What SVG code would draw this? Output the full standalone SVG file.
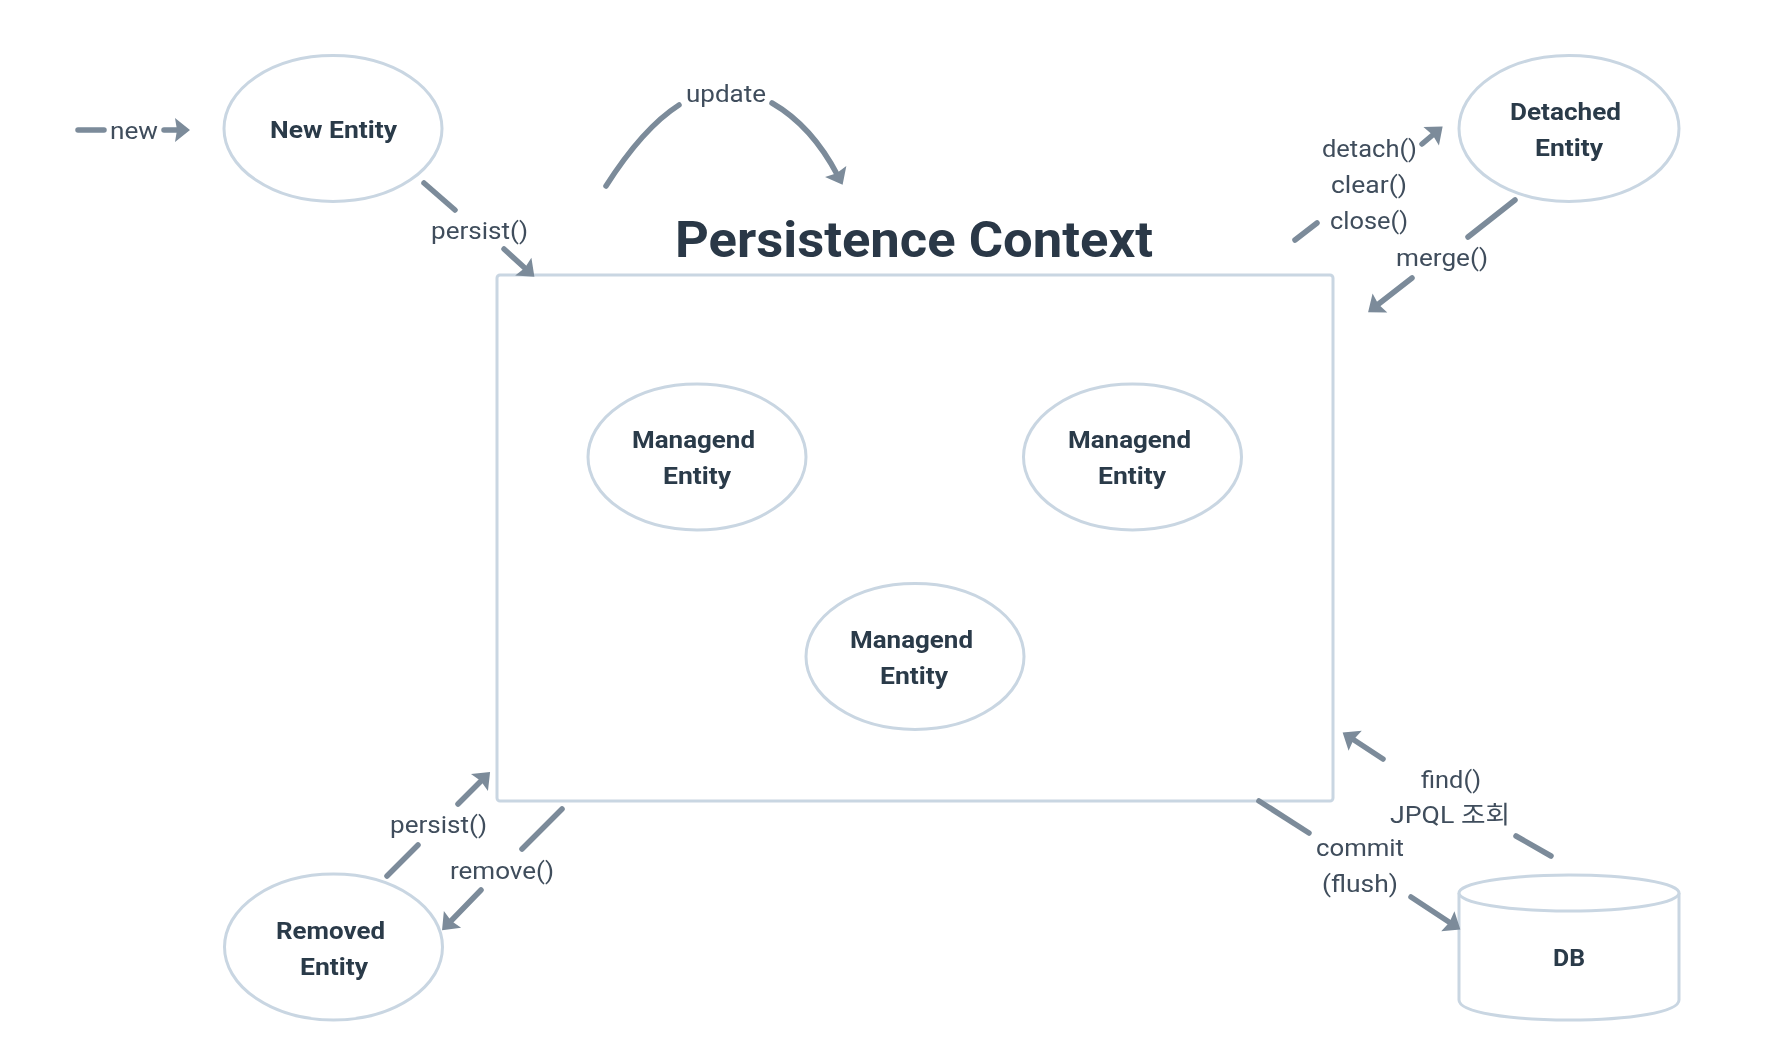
<svg xmlns="http://www.w3.org/2000/svg" width="1792" height="1056" viewBox="0 0 1792 1056">
<style>
.shape{fill:#fff;stroke:#c9d6e2;stroke-width:3}
.node{font-family:"Roboto","Noto Sans CJK KR",sans-serif;font-weight:700;font-size:24px;fill:#2c3a4a}
.label{font-family:"Roboto","Noto Sans CJK KR",sans-serif;font-weight:400;font-size:24px;fill:#3f4d5c}
.title{font-family:"Roboto",sans-serif;font-weight:700;font-size:50px;fill:#2a3846}
.conn{fill:none;stroke:#7b8b9a;stroke-width:5.5;stroke-linecap:round}
</style>
<defs>
<marker id="head" markerUnits="userSpaceOnUse" markerWidth="26" markerHeight="26" viewBox="0 0 26 26" refX="15" refY="13" orient="auto">
<path d="M10,1 L25,13 L10,25 L12,13 Z" fill="#7b8b9a"/>
</marker>
<filter id="soft" filterUnits="userSpaceOnUse" x="0" y="0" width="1792" height="1056"><feGaussianBlur stdDeviation="0.7"/></filter>
</defs>
<rect width="1792" height="1056" fill="#fff"/>
<g filter="url(#soft)">
<g id="persistence-context">
<rect class="shape" x="497" y="275" width="836" height="526" rx="3"/>
<text class="title" x="675" y="257" textLength="478" lengthAdjust="spacingAndGlyphs">Persistence Context</text>
</g>
<g id="new-entity">
<ellipse class="shape" cx="333" cy="128.5" rx="109" ry="73"/>
<text class="node" x="270" y="138" textLength="127" lengthAdjust="spacingAndGlyphs">New Entity</text>
</g>
<g id="detached-entity">
<ellipse class="shape" cx="1569" cy="128.5" rx="110" ry="73"/>
<text class="node" x="1510" y="120" textLength="111" lengthAdjust="spacingAndGlyphs">Detached</text>
<text class="node" x="1535" y="156" textLength="68" lengthAdjust="spacingAndGlyphs">Entity</text>
</g>
<g id="managed-entity-1">
<ellipse class="shape" cx="697" cy="457" rx="109" ry="73"/>
<text class="node" x="632" y="448" textLength="123" lengthAdjust="spacingAndGlyphs">Managend</text>
<text class="node" x="663" y="484" textLength="68" lengthAdjust="spacingAndGlyphs">Entity</text>
</g>
<g id="managed-entity-2">
<ellipse class="shape" cx="1132.5" cy="457" rx="109" ry="73"/>
<text class="node" x="1068" y="448" textLength="123" lengthAdjust="spacingAndGlyphs">Managend</text>
<text class="node" x="1098" y="484" textLength="68" lengthAdjust="spacingAndGlyphs">Entity</text>
</g>
<g id="managed-entity-3">
<ellipse class="shape" cx="915" cy="656.5" rx="109" ry="73"/>
<text class="node" x="850" y="648" textLength="123" lengthAdjust="spacingAndGlyphs">Managend</text>
<text class="node" x="880" y="684" textLength="68" lengthAdjust="spacingAndGlyphs">Entity</text>
</g>
<g id="removed-entity">
<ellipse class="shape" cx="333.5" cy="947" rx="109" ry="73"/>
<text class="node" x="276" y="939" textLength="109" lengthAdjust="spacingAndGlyphs">Removed</text>
<text class="node" x="300" y="975" textLength="68" lengthAdjust="spacingAndGlyphs">Entity</text>
</g>
<g id="db">
<path class="shape" d="M1459,893 V1000 C1459,1012 1508,1020 1569,1020 C1630,1020 1679,1012 1679,1000 V893"/>
<ellipse class="shape" cx="1569" cy="893" rx="110" ry="18"/>
<text class="node" x="1553" y="966" textLength="32" lengthAdjust="spacingAndGlyphs">DB</text>
</g>
<g id="connectors">
<path class="conn" d="M78,130 H104"/>
<path class="conn" d="M164,130 H180" marker-end="url(#head)"/>
<path class="conn" d="M424,183 L455,210"/>
<path class="conn" d="M504,249 L527,270" marker-end="url(#head)"/>
<path class="conn" d="M606,186 Q643,128 679,105"/>
<path class="conn" d="M772,103 Q812,126 838,176" marker-end="url(#head)"/>
<path class="conn" d="M1295,240 L1317,223"/>
<path class="conn" d="M1422,144 L1435,133" marker-end="url(#head)"/>
<path class="conn" d="M1515,200 L1468,237"/>
<path class="conn" d="M1412,278 L1376,306" marker-end="url(#head)"/>
<path class="conn" d="M418,845 L387,876"/>
<path class="conn" d="M458,804 L483,779" marker-end="url(#head)"/>
<path class="conn" d="M562,809 L522,849"/>
<path class="conn" d="M481,890 L449,923" marker-end="url(#head)"/>
<path class="conn" d="M1551,856 L1516,836"/>
<path class="conn" d="M1383,759 L1351,738" marker-end="url(#head)"/>
<path class="conn" d="M1259,801 L1309,833"/>
<path class="conn" d="M1411,897 L1452,924" marker-end="url(#head)"/>
</g>
<g id="connector-labels">
<text class="label" x="110" y="139" textLength="48" lengthAdjust="spacingAndGlyphs">new</text>
<text class="label" x="431" y="239" textLength="97" lengthAdjust="spacingAndGlyphs">persist()</text>
<text class="label" x="686" y="102" textLength="80" lengthAdjust="spacingAndGlyphs">update</text>
<text class="label" x="1322" y="157" textLength="95" lengthAdjust="spacingAndGlyphs">detach()</text>
<text class="label" x="1331" y="193" textLength="76" lengthAdjust="spacingAndGlyphs">clear()</text>
<text class="label" x="1330" y="229" textLength="78" lengthAdjust="spacingAndGlyphs">close()</text>
<text class="label" x="1396" y="266" textLength="92" lengthAdjust="spacingAndGlyphs">merge()</text>
<text class="label" x="390" y="833" textLength="97" lengthAdjust="spacingAndGlyphs">persist()</text>
<text class="label" x="450" y="879" textLength="104" lengthAdjust="spacingAndGlyphs">remove()</text>
<text class="label" x="1421" y="788" textLength="60" lengthAdjust="spacingAndGlyphs">find()</text>
<text class="label" x="1390" y="823" textLength="120" lengthAdjust="spacingAndGlyphs">JPQL 조회</text>
<text class="label" x="1316" y="856" textLength="88" lengthAdjust="spacingAndGlyphs">commit</text>
<text class="label" x="1322" y="892" textLength="76" lengthAdjust="spacingAndGlyphs">(flush)</text>
</g>
</g>
</svg>
